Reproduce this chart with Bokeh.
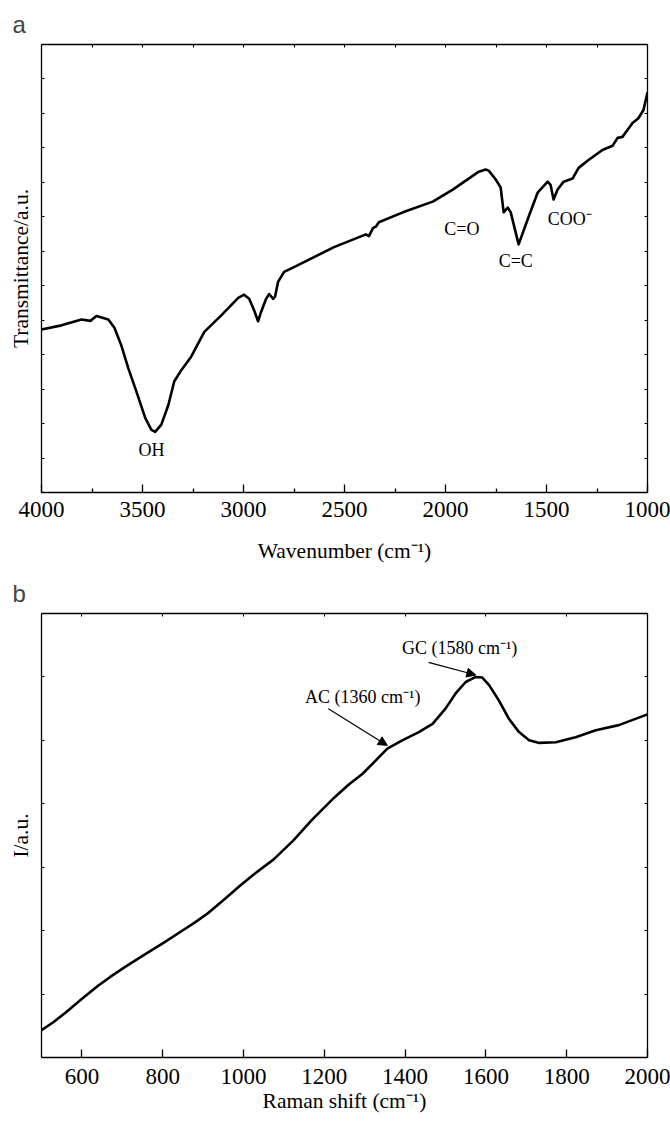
from bokeh.plotting import figure
from bokeh.models import (Range1d, LinearAxis, FixedTicker, CustomJSTickFormatter,
                          Label, Arrow, NormalHead)
from bokeh.layouts import column
from bokeh.embed import file_html
from bokeh.resources import INLINE

# ---------------- data ----------------
ftir_wavenumber = [4000, 3901, 3802, 3758, 3728, 3669, 3639, 3605, 3570, 3531,
                   3486, 3456, 3437, 3407, 3372, 3343, 3308, 3259, 3194, 3110,
                   3026, 2997, 2972, 2947, 2928, 2913, 2888, 2873, 2853, 2844,
                   2829, 2799, 2750, 2552, 2394, 2379, 2359, 2344, 2330, 2211,
                   2063, 1964, 1835, 1801, 1786, 1751, 1727, 1712, 1692, 1677,
                   1638, 1588, 1544, 1494, 1480, 1465, 1445, 1415, 1371, 1341,
                   1292, 1223, 1173, 1148, 1124, 1074, 1045, 1020, 1000]
ftir_transmittance = [4.73, 4.85, 5.02, 4.98, 5.12, 5.02, 4.78, 4.27, 3.60, 2.94,
                      2.16, 1.82, 1.76, 1.97, 2.54, 3.22, 3.55, 3.94, 4.66, 5.14,
                      5.65, 5.74, 5.62, 5.28, 4.97, 5.24, 5.62, 5.76, 5.62, 5.68,
                      6.11, 6.40, 6.54, 7.12, 7.49, 7.44, 7.67, 7.72, 7.84, 8.13,
                      8.44, 8.79, 9.31, 9.37, 9.34, 9.08, 8.85, 8.13, 8.27, 8.13,
                      7.20, 8.01, 8.70, 9.02, 8.93, 8.50, 8.79, 9.02, 9.11, 9.42,
                      9.65, 9.94, 10.06, 10.29, 10.32, 10.72, 10.86, 11.10, 11.61]

raman_shift = [500, 530, 560, 601, 640, 670, 710, 752, 800, 851,
               880, 911, 950, 992, 1030, 1074, 1123, 1170, 1225, 1260,
               1294, 1327, 1356, 1393, 1434, 1468, 1500, 1525, 1550, 1575,
               1591, 1608, 1632, 1657, 1682, 1707, 1732, 1773, 1822, 1872,
               1929, 2000]
raman_intensity = [0.43, 0.56, 0.71, 0.93, 1.13, 1.27, 1.44, 1.61, 1.80, 2.01,
                   2.13, 2.27, 2.48, 2.71, 2.91, 3.12, 3.42, 3.75, 4.10, 4.30,
                   4.47, 4.68, 4.87, 5.00, 5.13, 5.26, 5.50, 5.74, 5.92, 6.00,
                   5.99, 5.87, 5.63, 5.34, 5.13, 5.00, 4.96, 4.97, 5.05, 5.16,
                   5.24, 5.41]

ftir_xticks = [4000, 3500, 3000, 2500, 2000, 1500, 1000]
ftir_xminor = [3750, 3250, 2750, 2250, 1750, 1250]
ftir_xtop = [4000, 3750, 3500, 3250, 3000, 2750, 2500, 2250, 2000, 1750, 1500, 1250, 1000]
ftir_yticks = list(range(0, 14))

raman_xticks = [600, 800, 1000, 1200, 1400, 1600, 1800, 2000]
raman_yticks = list(range(0, 8))

SERIF = "Liberation Serif"
SANS = "Liberation Sans"


def blank():
    return CustomJSTickFormatter(code="return ''")


def make_fig(width, height, xr, yr, borders, letter, xlabel, ylabel,
             xticks, xminor, xtop, yticks, tick_standoff, label_standoff):
    bl, br, bt, bb = borders
    p = figure(width=width, height=height, x_range=xr, y_range=yr,
               output_backend="svg", toolbar_location=None,
               x_axis_type=None, y_axis_type=None,
               min_border_left=bl, min_border_right=br,
               min_border_top=bt, min_border_bottom=bb)
    p.outline_line_color = None
    p.background_fill_color = "white"
    p.border_fill_color = "white"

    p.title.text = letter
    p.title.text_font = SANS
    p.title.text_font_size = "24px"
    p.title.text_font_style = "normal"
    p.title.align = "left"
    p.title.offset = -29
    p.title.standoff = 13

    xb = LinearAxis(ticker=FixedTicker(ticks=xticks, minor_ticks=xminor),
                    axis_label=xlabel)
    xb.major_tick_in = 8
    xb.major_tick_out = 0
    xb.minor_tick_in = 4
    xb.minor_tick_out = 0
    xb.axis_line_width = 1.3
    xb.major_tick_line_width = 1.3
    xb.minor_tick_line_width = 1.3
    xb.major_label_text_font = SERIF
    xb.major_label_text_font_size = "23px"
    xb.major_label_text_color = "black"
    xb.major_label_standoff = tick_standoff
    xb.axis_label_text_font = SERIF
    xb.axis_label_text_font_size = "21.5px"
    xb.axis_label_text_font_style = "normal"
    xb.axis_label_text_color = "black"
    xb.axis_label_standoff = label_standoff
    p.add_layout(xb, "below")

    xt = LinearAxis(ticker=FixedTicker(ticks=xtop, minor_ticks=[]),
                    formatter=blank())
    xt.major_tick_in = 3
    xt.major_tick_out = 0
    xt.axis_line_width = 1.3
    xt.major_label_standoff = 0
    p.add_layout(xt, "above")

    yl = LinearAxis(ticker=FixedTicker(ticks=yticks, minor_ticks=[]),
                    formatter=blank(), axis_label=ylabel)
    yl.major_tick_in = 3
    yl.major_tick_out = 0
    yl.axis_line_width = 1.3
    yl.major_label_standoff = 0
    yl.axis_label_text_font = SERIF
    yl.axis_label_text_font_size = "21.5px"
    yl.axis_label_text_font_style = "normal"
    yl.axis_label_text_color = "black"
    yl.axis_label_standoff = 9
    p.add_layout(yl, "left")

    yr_ax = LinearAxis(ticker=FixedTicker(ticks=yticks, minor_ticks=[]),
                       formatter=blank())
    yr_ax.major_tick_in = 3
    yr_ax.major_tick_out = 0
    yr_ax.axis_line_width = 1.3
    yr_ax.major_label_standoff = 0
    p.add_layout(yr_ax, "right")
    return p


def note(p, x, y, text, size="18px"):
    p.add_layout(Label(x=x, y=y, text=text, text_font=SERIF,
                       text_font_size=size, text_align="center",
                       text_baseline="middle", text_color="black"))


# ---------------- panel a: FTIR ----------------
p1 = make_fig(670, 565, Range1d(4000, 1000), Range1d(0, 13), (40, 23, 44, 70),
              "a", "Wavenumber (cm\u207b\u00b9)", "Transmittance/a.u.",
              ftir_xticks, ftir_xminor, ftir_xtop, ftir_yticks, 9, 19)
p1.line(ftir_wavenumber, ftir_transmittance, line_color="black", line_width=2.6,
        line_join="round")
note(p1, 3456, 1.24, "OH")
note(p1, 1919, 7.64, "C=O")
note(p1, 1652, 6.71, "C=C")
note(p1, 1385, 7.93, "COO\u207b")

# ---------------- panel b: Raman ----------------
p2 = make_fig(670, 554, Range1d(500, 2000), Range1d(0, 7), (41, 23, 48, 62),
              "b", "Raman shift (cm\u207b\u00b9)", "I/a.u.",
              raman_xticks, [], raman_xticks, raman_yticks, 11, 2)
p2.line(raman_shift, raman_intensity, line_color="black", line_width=2.6,
        line_join="round")
note(p2, 1535, 6.45, "GC (1580 cm\u207b\u00b9)")
note(p2, 1295, 5.68, "AC (1360 cm\u207b\u00b9)")
p2.add_layout(Arrow(end=NormalHead(size=9, fill_color="black", line_color="black"),
                    x_start=1458, y_start=6.23, x_end=1575, y_end=6.03,
                    line_width=1.2, line_color="black"))
p2.add_layout(Arrow(end=NormalHead(size=9, fill_color="black", line_color="black"),
                    x_start=1210, y_start=5.50, x_end=1356, y_end=4.92,
                    line_width=1.2, line_color="black"))

layout = column(p1, p2)
open("out.html", "w").write(file_html(layout, INLINE))
